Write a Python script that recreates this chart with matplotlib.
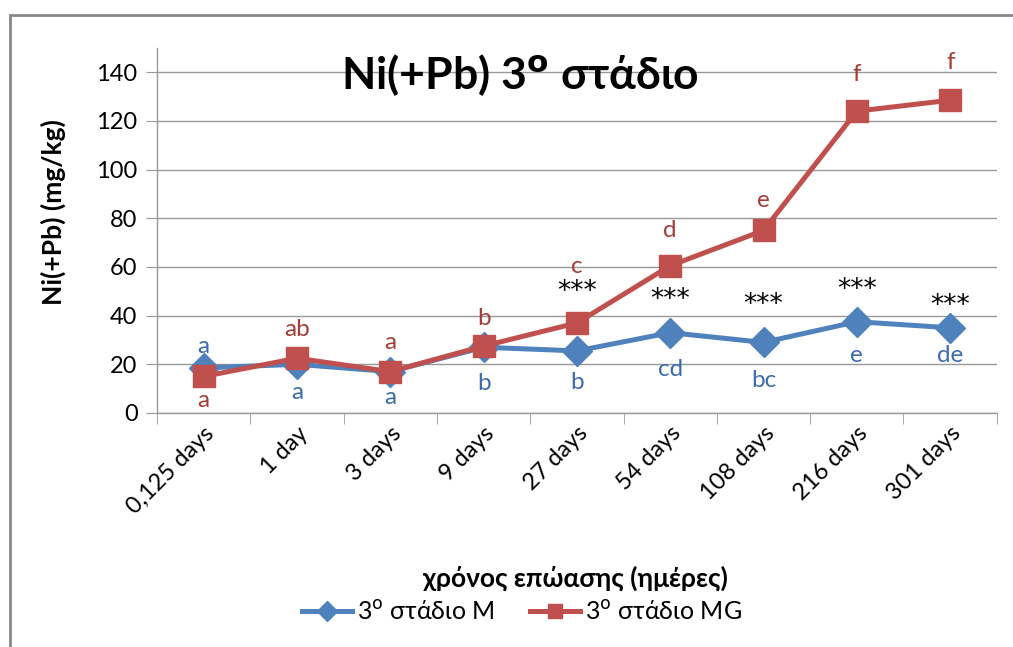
import matplotlib
matplotlib.use("Agg")
import matplotlib.pyplot as plt
from matplotlib.patches import Rectangle

plt.rcParams['font.family'] = ['Lato', 'DejaVu Sans']

categories = ["0,125 days", "1 day", "3 days", "9 days", "27 days",
              "54 days", "108 days", "216 days", "301 days"]
m_values = [18.5, 20.0, 17.0, 27.0, 25.5, 33.0, 29.0, 37.5, 35.0]
mg_values = [15.0, 22.5, 17.0, 27.5, 37.0, 60.5, 75.0, 124.0, 128.5]
m_letters = ["a", "a", "a", "b", "b", "cd", "bc", "e", "de"]
mg_letters = ["a", "ab", "a", "b", "c", "d", "e", "f", "f"]
star_positions = [4, 5, 6, 7, 8]

# label offsets from their point, in data units
m_letter_off = [9, -11.5, -10.5, -15, -13, -15, -15.5, -14, -11.5]
mg_letter_off = [-10, 12, 12, 11.5, 23, 14.5, 12.5, 15, 15.5]
star_off = [24, 13.5, 15.5, 13, 9]

blue = "#4F81BD"
red = "#C0504D"
blue_txt = "#3D6BAF"
red_txt = "#A43D3A"

fig = plt.figure(figsize=(10.13, 6.47), dpi=100)
ax = fig.add_axes([0.155, 0.3617, 0.829, 0.5643])

x = list(range(len(categories)))
ax.plot(x, m_values, color=blue, lw=3.6, marker="D", markersize=15,
        label="3$^{\\mathrm{o}}$ στάδιο M", zorder=3)
ax.plot(x, mg_values, color=red, lw=3.6, marker="s", markersize=16,
        label="3$^{\\mathrm{o}}$ στάδιο MG", zorder=4)

for i in x:
    ax.text(i, m_values[i] + m_letter_off[i], m_letters[i], color=blue_txt,
            fontsize=17.5, ha="center", va="center")
    ax.text(i, mg_values[i] + mg_letter_off[i], mg_letters[i], color=red_txt,
            fontsize=17.5, ha="center", va="center")

for i, d in zip(star_positions, star_off):
    ax.text(i, m_values[i] + d, "***", color="black", fontsize=19,
            ha="center", va="center", family="DejaVu Sans")

ax.set_xlim(-0.5, len(categories) - 0.5)
ax.set_ylim(0, 150)
ax.set_yticks(range(0, 141, 20))
ax.set_xticks(x)
ax.set_xticklabels(categories, rotation=45, ha="right", rotation_mode="anchor",
                   fontsize=17)
ax.set_xticks([i - 0.5 for i in range(len(categories) + 1)], minor=True)
ax.tick_params(axis="x", which="major", length=0, pad=7)
ax.tick_params(axis="x", which="minor", length=8, color="#999999", direction="out")
ax.tick_params(axis="y", labelsize=17, length=8, color="#999999", pad=6)
ax.grid(axis="y", color="#999999", lw=1.0)
ax.set_axisbelow(True)
for s in ["top", "right"]:
    ax.spines[s].set_visible(False)
for s in ["left", "bottom"]:
    ax.spines[s].set_color("#999999")
    ax.spines[s].set_linewidth(1.0)

ax.set_ylabel("Ni(+Pb) (mg/kg)", fontsize=19, fontweight="bold", labelpad=8)
ax.yaxis.set_label_coords(-0.108, 0.55)
fig.text(0.568, 0.107, "χρόνος επώασης (ημέρες)", fontsize=19, fontweight="bold",
         ha="center", va="center")
fig.text(0.513, 0.884, "Ni(+Pb) 3$^{\\mathbf{o}}$ στάδιο", fontsize=32,
         fontweight="bold", ha="center", va="center")

fig.legend(loc="center", bbox_to_anchor=(0.515, 0.055), ncol=2, frameon=False,
           fontsize=18, handlelength=2.0, columnspacing=1.4, handletextpad=0.2,
           markerscale=0.65)

fig.patches.append(Rectangle((0.01, -0.05), 1.2, 1.027, transform=fig.transFigure,
                             fill=False, edgecolor="#888888", lw=2))

fig.savefig("out.png", dpi=100)
